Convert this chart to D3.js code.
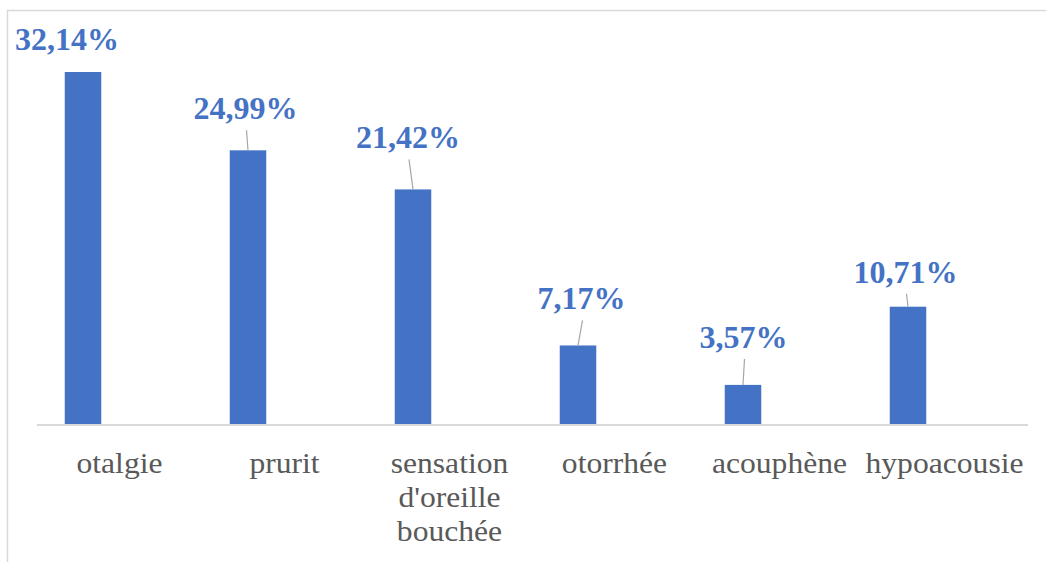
<!DOCTYPE html>
<html>
<head>
<meta charset="utf-8">
<script src="https://cdn.jsdelivr.net/npm/d3@7"></script>
<style>
  body { margin: 0; background: #fff; }
  svg { display: block; }
  svg text { font-family: 'Liberation Serif', 'Times New Roman', serif; }
  .cat { font-size: 29px; fill: #595959; }
  .val { font-size: 32px; font-weight: bold; fill: #4472C4; }
</style>
</head>
<body>
<svg id="chart" width="1046" height="562"></svg>
<script>
// data
var categories = ['otalgie', 'prurit', "sensation d'oreille bouchée", 'otorrhée', 'acouphène', 'hypoacousie'];
var values = [32.14, 24.99, 21.42, 7.17, 3.57, 10.71];
var valueLabels = ['32,14%', '24,99%', '21,42%', '7,17%', '3,57%', '10,71%'];

// hand-placed data labels (offset from bar top centre, px) and whether a leader line is drawn
var labelOffsets = [
  { dx: -16, dy: -22, leader: false },
  { dx: -2.5, dy: -31, leader: true },
  { dx: -5, dy: -41, leader: true },
  { dx: 3.5, dy: -36, leader: true },
  { dx: 0.5, dy: -37, leader: true },
  { dx: -2.5, dy: -24, leader: true }
];

var svg = d3.select('#chart');
var blue = '#4472C4';

// frame of the chart area (runs off the right and bottom of the picture)
svg.append('rect')
  .attr('x', 7.5).attr('y', 10.5)
  .attr('width', 1100).attr('height', 600)
  .attr('fill', 'none')
  .attr('stroke', '#d9d9d9')
  .attr('stroke-width', 1.5);

var baseY = 424;
var x = d3.scaleBand().domain(categories).range([37, 1027]);
var y = d3.scaleLinear().domain([0, 35]).range([baseY, 40.7]);

// bars sit in the first slot of the cluster, left of the category centre
var barW = 36.5;
function barLeft(d) { return x(d) + x.bandwidth() / 2 - 1.5 * barW; }
function barCenter(d) { return barLeft(d) + barW / 2; }

svg.selectAll('.bar')
  .data(categories)
  .enter()
  .append('rect')
  .attr('class', 'bar')
  .attr('x', function(d) { return barLeft(d); })
  .attr('width', barW)
  .attr('y', function(d, i) { return y(values[i]); })
  .attr('height', function(d, i) { return baseY - y(values[i]); })
  .attr('fill', blue);

// category axis line
svg.append('line')
  .attr('x1', 37).attr('x2', 1028)
  .attr('y1', baseY + 1).attr('y2', baseY + 1)
  .attr('stroke', '#d9d9d9')
  .attr('stroke-width', 2);

// category labels, wrapped to the band width (the source text is a bit wide)
var stretch = 1.09;
var ctx = document.createElement('canvas').getContext('2d');
ctx.font = "29px 'Liberation Serif'";
function wrap(text, width) {
  var words = text.split(' ');
  var lines = [];
  var cur = '';
  words.forEach(function(w) {
    var test = cur ? cur + ' ' + w : w;
    if (cur && ctx.measureText(test).width * stretch > width) {
      lines.push(cur);
      cur = w;
    } else {
      cur = test;
    }
  });
  lines.push(cur);
  return lines;
}

svg.selectAll('.cat')
  .data(categories)
  .enter()
  .append('text')
  .attr('class', 'cat')
  .attr('text-anchor', 'middle')
  .attr('transform', function(d) {
    return 'translate(' + (x(d) + x.bandwidth() / 2) + ',0) scale(' + stretch + ',1)';
  })
  .each(function(d) {
    var t = d3.select(this);
    wrap(d, x.bandwidth()).forEach(function(line, k) {
      t.append('tspan')
        .attr('x', 0)
        .attr('y', 473 + k * 34)
        .text(line);
    });
  });

// leader lines
svg.selectAll('.leader')
  .data(categories.filter(function(d, i) { return labelOffsets[i].leader; }))
  .enter()
  .append('line')
  .attr('class', 'leader')
  .attr('x1', function(d) {
    var i = categories.indexOf(d);
    return barCenter(d) + labelOffsets[i].dx + 1;
  })
  .attr('y1', function(d) {
    var i = categories.indexOf(d);
    return y(values[i]) + labelOffsets[i].dy + 11;
  })
  .attr('x2', function(d) { return barCenter(d); })
  .attr('y2', function(d) { return y(values[categories.indexOf(d)]); })
  .attr('stroke', '#a6a6a6')
  .attr('stroke-width', 1.2);

// value labels
svg.selectAll('.val')
  .data(categories)
  .enter()
  .append('text')
  .attr('class', 'val')
  .attr('x', function(d, i) { return barCenter(d) + labelOffsets[i].dx; })
  .attr('y', function(d, i) { return y(values[i]) + labelOffsets[i].dy; })
  .attr('text-anchor', 'middle')
  .text(function(d, i) { return valueLabels[i]; });
</script>
</body>
</html>
